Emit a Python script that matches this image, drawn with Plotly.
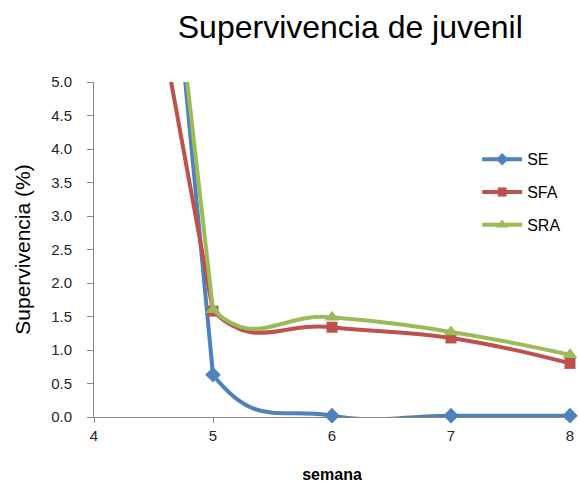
import plotly.graph_objects as go

semana = [4, 5, 6, 7, 8]
se = [19.4, 0.63, 0.02, 0.02, 0.02]
sfa = [11.3, 1.58, 1.34, 1.18, 0.8]
sra = [17.3, 1.6, 1.49, 1.27, 0.93]

series = [
    ("SE", se, "#4F81BD", "diamond", 12),
    ("SFA", sfa, "#C0504D", "square", 11),
    ("SRA", sra, "#9BBB59", "triangle-up", 13),
]

fig = go.Figure()
for name, vals, col, sym, sz in series:
    # steep first segment (week 4 -> 5), drawn straight on the main axis
    fig.add_trace(go.Scatter(
        x=semana[:2], y=vals[:2], mode="lines", showlegend=False,
        legendgroup=name, hoverinfo="skip",
        line=dict(color=col, width=4), xaxis="x", yaxis="y",
    ))
for name, vals, col, sym, sz in series:
    sizes = [0] + [sz] * (len(semana) - 1)
    # smoothed curve, shown from week 5 onward
    fig.add_trace(go.Scatter(
        x=semana, y=vals, name=name, mode="lines+markers", legendgroup=name,
        line=dict(color=col, width=4, shape="spline", smoothing=1.3),
        marker=dict(symbol=sym, size=sizes, color=col, opacity=1,
                    line=dict(width=0)),
        cliponaxis=False, xaxis="x2", yaxis="y",
    ))

fig.update_layout(
    width=579, height=487,
    margin=dict(l=94, r=5, t=82, b=70),
    paper_bgcolor="white", plot_bgcolor="rgba(0,0,0,0)",
    font=dict(family="Liberation Sans, Arial", color="#404040", size=14),
    title=dict(text="Supervivencia de juvenil", x=0.605, xanchor="center",
               y=0.945, yanchor="middle",
               font=dict(size=32, color="#000000")),
    showlegend=True,
    legend=dict(x=0.805, y=0.82, xanchor="left", yanchor="top",
                font=dict(size=16, color="#000000"), tracegroupgap=9,
                itemwidth=40, bgcolor="rgba(0,0,0,0)"),
    xaxis=dict(range=[4, 8], domain=[0, 1], tickvals=[4, 5, 6, 7, 8], showgrid=False,
               zeroline=False, showline=True, linecolor="#868686", linewidth=1,
               ticks="outside", ticklen=5, tickcolor="#868686",
               tickfont=dict(size=15, color="#262626"),
               title=dict(text="<b>semana</b>", font=dict(size=16, color="#000000"), standoff=25)),
    xaxis2=dict(range=[5, 8], domain=[0.25, 1], anchor="y", visible=False,
                showgrid=False, zeroline=False),
    yaxis=dict(range=[0, 5], dtick=0.5, tickformat=".1f", showgrid=False,
               zeroline=False, showline=True, linecolor="#868686", linewidth=1,
               ticks="outside", ticklen=6, tickcolor="#868686",
               ticklabelstandoff=12,
               tickfont=dict(size=15, color="#262626"),
               title=dict(text="Supervivencia (%)", font=dict(size=21, color="#000000"), standoff=14)),
)

fig.write_html("out.html")
